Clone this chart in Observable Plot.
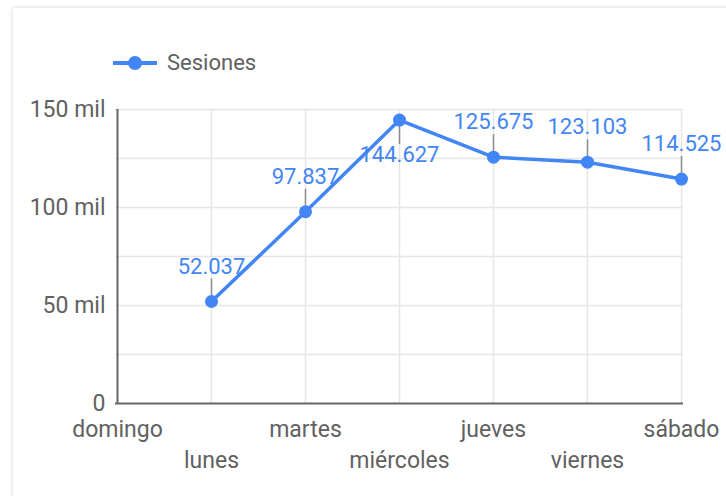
<!DOCTYPE html>
<html>
<head>
<meta charset="utf-8">
<script src="https://cdn.jsdelivr.net/npm/d3@7"></script>
<script src="https://cdn.jsdelivr.net/npm/@observablehq/plot@0.6"></script>
<style>
  html, body { margin: 0; padding: 0; background: #fff; width: 726px; height: 496px; overflow: hidden; font-family: Roboto, sans-serif; }
  #card { position: absolute; left: 13px; top: 8px; width: 800px; height: 600px; background: #fff; box-shadow: 0 0 5px rgba(0,0,0,0.18); }
  #legend { position: absolute; left: 0; top: 0; width: 726px; height: 90px; }
  #legend svg { position: absolute; left: 108px; top: 53px; }
  #legend span { position: absolute; left: 167px; top: 51px; font-size: 22px; line-height: 24px; color: #616161; }
  #chart { position: absolute; left: 0; top: 90px; }
</style>
</head>
<body>
<div id="card"></div>
<div id="legend"></div>
<div id="chart"></div>
<script>
const days = ["domingo", "lunes", "martes", "miércoles", "jueves", "viernes", "sábado"];
const sesiones = [null, 52037, 97837, 144627, 125675, 123103, 114525];
const yTicks = [0, 50000, 100000, 150000];
const yTickLabels = ["0", "50 mil", "100 mil", "150 mil"];
const yGrid = [25000, 50000, 75000, 100000, 125000, 150000];
const seriesName = "Sesiones";

const blue = "#4285f4";
const textGray = "#616161";

const data = days.map((d, i) => ({day: d, value: sesiones[i]}));
const pts = data.filter(d => d.value != null);
const maxV = d3.max(pts, d => d.value);
const above = pts.filter(d => d.value !== maxV);
const below = pts.filter(d => d.value === maxV);

const fmt = d3.formatLocale({decimal: ",", thousands: ".", grouping: [3], currency: ["", "€"]}).format(",d");

const leaderUp = {draw(ctx) { ctx.moveTo(0, -6); ctx.lineTo(0, -23); }};
const leaderDown = {draw(ctx) { ctx.moveTo(0, 6); ctx.lineTo(0, 24); }};

// legend
const legend = document.getElementById("legend");
legend.innerHTML = `<svg width="60" height="20"><line x1="5" x2="49" y1="10" y2="10" stroke="${blue}" stroke-width="4"/><circle cx="27" cy="10" r="7" fill="${blue}"/></svg><span>${seriesName}</span>`;

const chart = Plot.plot({
  width: 726,
  height: 406,
  marginLeft: 115,
  marginRight: 43,
  marginTop: 19,
  marginBottom: 93,
  x: {type: "point", domain: days, padding: 0, axis: null},
  y: {domain: [0, 150000], axis: null},
  style: {fontFamily: "Roboto, sans-serif", background: "transparent", overflow: "visible"},
  marks: [
    Plot.ruleY(yGrid, {stroke: "#e6e6e6", strokeWidth: 1.5}),
    Plot.ruleX(days.slice(1), {x: d => d, stroke: "#e6e6e6", strokeWidth: 1.5}),
    Plot.ruleX(days.slice(0, 1), {x: d => d, stroke: "#666", strokeWidth: 2}),
    Plot.ruleY([0], {stroke: "#666", strokeWidth: 2}),
    Plot.dot(above, {x: "day", y: "value", symbol: leaderUp, stroke: "#8c8c8c", strokeWidth: 1.5, fill: "none"}),
    Plot.dot(below, {x: "day", y: "value", symbol: leaderDown, stroke: "#8c8c8c", strokeWidth: 1.5, fill: "none"}),
    Plot.line(pts, {x: "day", y: "value", stroke: blue, strokeWidth: 3.5}),
    Plot.dot(pts, {x: "day", y: "value", r: 6.5, fill: blue}),
    Plot.text(above, {x: "day", y: "value", text: d => fmt(d.value), dy: -35, fill: blue, fontSize: 22}),
    Plot.text(below, {x: "day", y: "value", text: d => fmt(d.value), dy: 35, fill: blue, fontSize: 22}),
    Plot.text(yTicks, {y: d => d, frameAnchor: "left", text: (d, i) => yTickLabels[i], textAnchor: "end", dx: -10, fontSize: 23, fill: textGray}),
    Plot.text(days.filter((d, i) => i % 2 === 0), {x: d => d, frameAnchor: "bottom", text: d => d, dy: 33, fontSize: 23, fill: textGray}),
    Plot.text(days.filter((d, i) => i % 2 === 1), {x: d => d, frameAnchor: "bottom", text: d => d, dy: 64, fontSize: 23, fill: textGray})
  ]
});
document.getElementById("chart").appendChild(chart);
</script>
</body>
</html>
